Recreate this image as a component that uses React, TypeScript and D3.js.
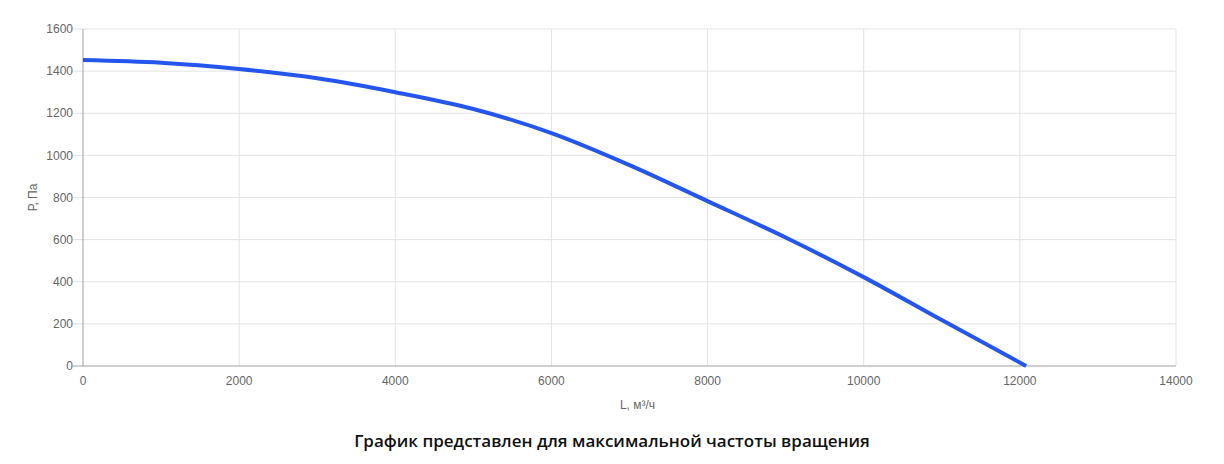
import { useEffect, useRef } from 'react'
import * as d3 from 'd3'

const flowValues = [0, 1000, 2000, 3000, 4000, 5000, 6000, 7000, 8000, 9000, 10000, 11000, 12080]
const pressureValues = [1453, 1440, 1410, 1366, 1300, 1220, 1106, 954, 783, 610, 422, 218, 0]
const xTicks = [0, 2000, 4000, 6000, 8000, 10000, 12000, 14000]
const yTicks = [0, 200, 400, 600, 800, 1000, 1200, 1400, 1600]

const App = () => {
  const svgRef = useRef<SVGSVGElement>(null)

  useEffect(() => {
    if (!svgRef.current) return
    const svg = d3.select(svgRef.current)
    svg.selectAll('*').remove()

    const width = 1224
    const height = 464
    const margin = { top: 29, right: 48, bottom: 98, left: 83 }

    const x = d3.scaleLinear().domain([0, 14000]).range([margin.left, width - margin.right])
    const y = d3.scaleLinear().domain([0, 1600]).range([height - margin.bottom, margin.top])

    const font = '"Liberation Sans", Arial, sans-serif'

    // Grid
    svg.append('g')
      .selectAll('line')
      .data(xTicks.slice(1))
      .join('line')
      .attr('x1', d => x(d))
      .attr('x2', d => x(d))
      .attr('y1', y(0))
      .attr('y2', y(1600))
      .attr('stroke', '#e3e3e3')

    svg.append('g')
      .selectAll('line')
      .data(yTicks.slice(1))
      .join('line')
      .attr('x1', x(0) - 10)
      .attr('x2', x(14000))
      .attr('y1', d => y(d))
      .attr('y2', d => y(d))
      .attr('stroke', '#e3e3e3')

    // Axes
    svg.append('line')
      .attr('x1', x(0) - 10).attr('x2', x(14000))
      .attr('y1', y(0)).attr('y2', y(0))
      .attr('stroke', '#9e9e9e')
    svg.append('line')
      .attr('x1', x(0)).attr('x2', x(0))
      .attr('y1', y(0)).attr('y2', y(1600))
      .attr('stroke', '#9e9e9e')

    // Tick labels
    svg.append('g')
      .selectAll('text')
      .data(yTicks)
      .join('text')
      .attr('x', x(0) - 10)
      .attr('y', d => y(d))
      .attr('dy', '0.35em')
      .attr('text-anchor', 'end')
      .style('font-family', font)
      .style('font-size', '12px')
      .style('fill', '#666')
      .text(d => d)

    svg.append('g')
      .selectAll('text')
      .data(xTicks)
      .join('text')
      .attr('x', d => x(d))
      .attr('y', y(0) + 19)
      .attr('text-anchor', 'middle')
      .style('font-family', font)
      .style('font-size', '12px')
      .style('fill', '#666')
      .text(d => d)

    // Axis labels
    svg.append('text')
      .attr('transform', `translate(37, ${(y(0) + y(1600)) / 2}) rotate(-90)`)
      .attr('text-anchor', 'middle')
      .style('font-family', font)
      .style('font-size', '12px')
      .style('fill', '#666')
      .text('Р, Па')

    svg.append('text')
      .attr('x', (x(0) + x(14000)) / 2 + 8)
      .attr('y', 409)
      .attr('text-anchor', 'middle')
      .style('font-family', font)
      .style('font-size', '12px')
      .style('fill', '#666')
      .text('L, м³/ч')

    // Curve
    const line = d3.line<number>()
      .x((_, i) => x(flowValues[i]))
      .y(d => y(d))
      .curve(d3.curveMonotoneX)

    svg.append('path')
      .datum(pressureValues)
      .attr('d', line)
      .attr('fill', 'none')
      .attr('stroke', '#2456ee')
      .attr('stroke-width', 4)

    // Caption
    svg.append('text')
      .attr('x', 612)
      .attr('y', 447)
      .attr('text-anchor', 'middle')
      .style('font-family', '"Open Sans", sans-serif')
      .style('font-size', '17px')
      .style('font-weight', 600)
      .style('fill', '#111')
      .text('График представлен для максимальной частоты вращения')
  }, [])

  return (
    <svg
      ref={svgRef}
      width={1224}
      height={464}
      style={{ position: 'absolute', left: 0, top: 0, background: '#fff' }}
    />
  )
}

export default App
